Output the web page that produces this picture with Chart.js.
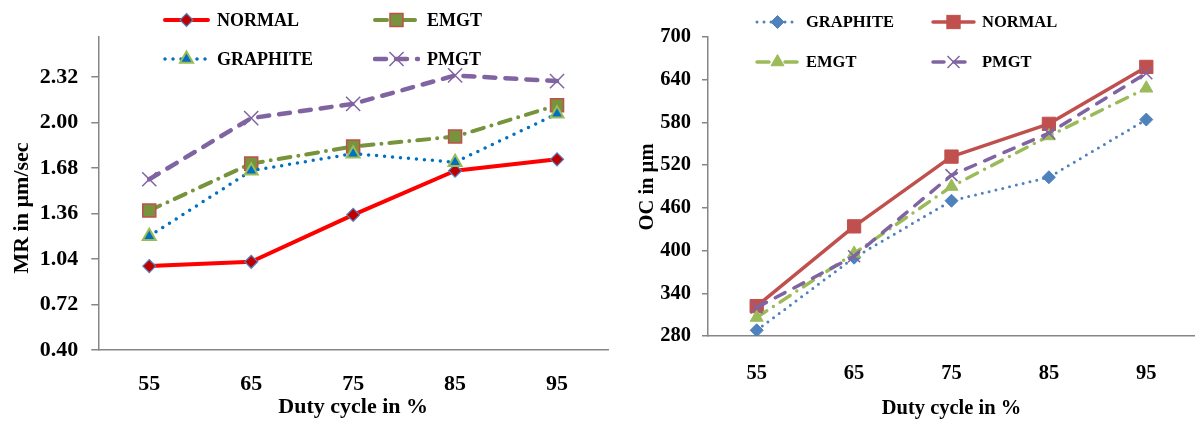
<!DOCTYPE html>
<html lang="en">
<head>
<meta charset="UTF-8">
<title>MR and OC vs duty cycle</title>
<script src="https://cdn.jsdelivr.net/npm/chart.js@4.4.1/dist/chart.umd.min.js"></script>
<style>
    body {
        margin: 0;
        background: #fff;
        width: 1195px;
        height: 421px;
        overflow: hidden;
        position: relative;
        font-family: 'Liberation Serif', 'Times New Roman', serif;
    }
    .panel { position: absolute; top: 0; height: 421px; }
    #left { left: 0; width: 612px; }
    #right { left: 612px; width: 583px; }
    .legend-item {
        position: absolute;
        display: flex;
        align-items: center;
        font-weight: bold;
        color: #000;
        white-space: nowrap;
        height: 24px;
    }
    .legend-item svg { display: block; }
</style>
</head>
<body>
<div class="panel" id="left"><canvas id="mrChart"></canvas></div>
<div class="panel" id="right"><canvas id="ocChart"></canvas></div>
<script>
// data
const dutyCycle = ['55', '65', '75', '85', '95'];

const mrNormal   = [0.99, 1.02, 1.35, 1.66, 1.74];
const mrEmgt     = [1.38, 1.71, 1.83, 1.90, 2.12];
const mrGraphite = [1.20, 1.66, 1.78, 1.72, 2.06];
const mrPmgt     = [1.60, 2.03, 2.13, 2.33, 2.29];
const mrTicks    = [0.40, 0.72, 1.04, 1.36, 1.68, 2.00, 2.32];

const ocGraphite = [288, 390, 470, 503, 584];
const ocNormal   = [322, 434, 532, 578, 658];
const ocEmgt     = [306, 396, 490, 561, 628];
const ocPmgt     = [320, 392, 506, 565, 649];
const ocTicks    = [280, 340, 400, 460, 520, 580, 640, 700];

const FONT = "'Liberation Serif', 'Times New Roman', serif";
const AXIS = '#868686';

function series(label, data, s) {
    return {
        label: label,
        data: data,
        borderColor: s.color,
        borderWidth: s.width,
        borderDash: s.dash,
        borderCapStyle: 'round',
        borderJoinStyle: 'round',
        pointStyle: s.marker,
        pointRadius: s.radius,
        pointHoverRadius: s.radius,
        pointBackgroundColor: s.fill,
        pointBorderColor: s.edge,
        pointBorderWidth: s.edgeWidth,
        tension: 0,
        fill: false,
        order: s.order
    };
}

const mrSets = [
    series('NORMAL', mrNormal, {color: '#FF0000', width: 4, dash: [], marker: 'rectRot', radius: 6.5, fill: '#C00000', edge: '#4F81BD', edgeWidth: 1.2, order: 4}),
    series('EMGT', mrEmgt, {color: '#77933C', width: 4, dash: [12, 8, 0, 8], marker: 'rect', radius: 9.2, fill: '#77933C', edge: '#C0504D', edgeWidth: 1.5, order: 3}),
    series('GRAPHITE', mrGraphite, {color: '#0070C0', width: 3.5, dash: [0, 8], marker: 'triangle', radius: 7.5, fill: '#0070C0', edge: '#9BBB59', edgeWidth: 2, order: 2}),
    series('PMGT', mrPmgt, {color: '#8064A2', width: 4.5, dash: [11, 10], marker: 'crossRot', radius: 10, fill: '#8064A2', edge: '#8064A2', edgeWidth: 1.5, order: 1})
];

const ocSets = [
    series('GRAPHITE', ocGraphite, {color: '#4F81BD', width: 3, dash: [0, 7], marker: 'rectRot', radius: 6.5, fill: '#4F81BD', edge: '#4F81BD', edgeWidth: 1, order: 4}),
    series('NORMAL', ocNormal, {color: '#C0504D', width: 3.5, dash: [], marker: 'rect', radius: 9.4, fill: '#C0504D', edge: '#C0504D', edgeWidth: 1, order: 3}),
    series('EMGT', ocEmgt, {color: '#9BBB59', width: 3.5, dash: [12, 8, 0, 8], marker: 'triangle', radius: 7.5, fill: '#9BBB59', edge: '#9BBB59', edgeWidth: 1, order: 2}),
    series('PMGT', ocPmgt, {color: '#8064A2', width: 3.5, dash: [11, 10], marker: 'crossRot', radius: 8.5, fill: '#8064A2', edge: '#8064A2', edgeWidth: 1.5, order: 1})
];

// rotated y title, drawn where the original has it
const yTitlePlugin = {
    id: 'yTitle',
    afterDraw(chart, args, opts) {
        const ctx = chart.ctx;
        ctx.save();
        ctx.translate(opts.x, opts.y);
        ctx.rotate(-Math.PI / 2);
        ctx.font = 'bold ' + opts.size + 'px ' + FONT;
        ctx.fillStyle = '#000';
        ctx.textAlign = 'center';
        ctx.textBaseline = 'middle';
        ctx.fillText(opts.text, 0, 0);
        ctx.restore();
    }
};

function makeOptions(o) {
    const f = (size) => ({family: FONT, size: size, weight: 'bold', lineHeight: 1});
    return {
        responsive: true,
        maintainAspectRatio: false,
        animation: false,
        layout: {padding: o.pad, autoPadding: false},
        plugins: {
            legend: {display: false},
            tooltip: {enabled: false},
            yTitle: {text: o.yTitle, x: o.yTitleX, y: o.yTitleY, size: o.fs}
        },
        scales: {
            x: {
                offset: true,
                grid: {display: false, drawTicks: false},
                border: {color: AXIS, width: 1.5},
                ticks: {color: '#000', padding: o.xTickPad, font: f(o.fs), maxRotation: 0},
                title: {display: true, text: 'Duty cycle in %', color: '#000', font: f(o.fs), padding: {top: 0, bottom: o.xTitleBottom}},
                afterFit: (s) => { s.height = o.xHeight; s.paddingLeft = 0; s.paddingRight = 0; }
            },
            y: {
                min: o.min,
                max: o.max,
                afterBuildTicks: (axis) => { axis.ticks = o.ticks.map(v => ({value: v})); },
                grid: {drawOnChartArea: false, drawTicks: true, tickLength: o.tickLen, color: AXIS, lineWidth: 1.5},
                border: {color: AXIS, width: 1.5},
                ticks: {color: '#000', padding: o.yTickPad, font: f(o.fs), callback: o.fmt},
                afterFit: (s) => { s.width = o.yWidth; s.paddingTop = 0; s.paddingBottom = 0; }
            }
        }
    };
}

new Chart(document.getElementById('mrChart'), {
    type: 'line',
    data: {labels: dutyCycle, datasets: mrSets},
    plugins: [yTitlePlugin],
    options: makeOptions({
        pad: {top: 37, left: 2, right: 4, bottom: 1},
        fs: 22, min: 0.4, max: 2.6, ticks: mrTicks, tickLen: 7,
        xTickPad: 23, xTitleBottom: 2, xHeight: 70,
        yTickPad: 13, yWidth: 96.3,
        yTitle: 'MR in µm/sec', yTitleX: 22, yTitleY: 208,
        fmt: (v) => Number(v).toFixed(2)
    })
});

new Chart(document.getElementById('ocChart'), {
    type: 'line',
    data: {labels: dutyCycle, datasets: ocSets},
    plugins: [yTitlePlugin],
    options: makeOptions({
        pad: {top: 37, left: 2, right: -5, bottom: 1},
        fs: 20.5, min: 280, max: 700, ticks: ocTicks, tickLen: 6,
        xTickPad: 27, xTitleBottom: 1, xHeight: 84,
        yTickPad: 11, yWidth: 94,
        yTitle: 'OC in µm', yTitleX: 36, yTitleY: 187,
        fmt: (v) => String(v)
    })
});

// legend: line sample with marker, then the name
function markerSvg(ds, cx, cy) {
    const r = ds.pointRadius, fill = ds.pointBackgroundColor, st = ds.pointBorderColor, sw = ds.pointBorderWidth;
    const k = Math.SQRT1_2 * r;
    if (ds.pointStyle === 'rectRot') {
        return `<polygon points="${cx},${cy - r} ${cx + r},${cy} ${cx},${cy + r} ${cx - r},${cy}" fill="${fill}" stroke="${st}" stroke-width="${sw}"/>`;
    }
    if (ds.pointStyle === 'rect') {
        return `<rect x="${cx - k}" y="${cy - k}" width="${2 * k}" height="${2 * k}" fill="${fill}" stroke="${st}" stroke-width="${sw}"/>`;
    }
    if (ds.pointStyle === 'triangle') {
        const pts = [0, 1, 2].map(i => {
            const a = i * 2 * Math.PI / 3;
            return (cx + Math.sin(a) * r) + ',' + (cy - Math.cos(a) * r);
        }).join(' ');
        return `<polygon points="${pts}" fill="${fill}" stroke="${st}" stroke-width="${sw}"/>`;
    }
    return `<path d="M${cx - k},${cy - k}L${cx + k},${cy + k}M${cx + k},${cy - k}L${cx - k},${cy + k}" stroke="${st}" stroke-width="${sw}"/>`;
}

function addLegend(panel, sets, cols, rows, sampleW, gap, fontSize) {
    sets.forEach((ds, i) => {
        const el = document.createElement('div');
        el.className = 'legend-item';
        el.style.left = cols[i % 2] + 'px';
        el.style.top = (rows[Math.floor(i / 2)] - 12) + 'px';
        el.style.fontSize = fontSize + 'px';
        const dash = ds.borderDash.length ? ds.borderDash.join(' ') : 'none';
        el.innerHTML = `<svg width="${sampleW}" height="24">` +
            `<line x1="2" y1="12" x2="${sampleW - 2}" y2="12" stroke="${ds.borderColor}" stroke-width="${ds.borderWidth}" stroke-dasharray="${dash}" stroke-linecap="round"/>` +
            markerSvg(ds, sampleW / 2, 12) + `</svg>` +
            `<span style="margin-left:${gap}px">${ds.label}</span>`;
        document.getElementById(panel).appendChild(el);
    });
}

// order in the legend: row by row
addLegend('left', mrSets, [163, 373], [20, 59], 47, 7, 18);
addLegend('right', ocSets, [143, 319], [22, 62], 45, 6, 16.5);
</script>
</body>
</html>
